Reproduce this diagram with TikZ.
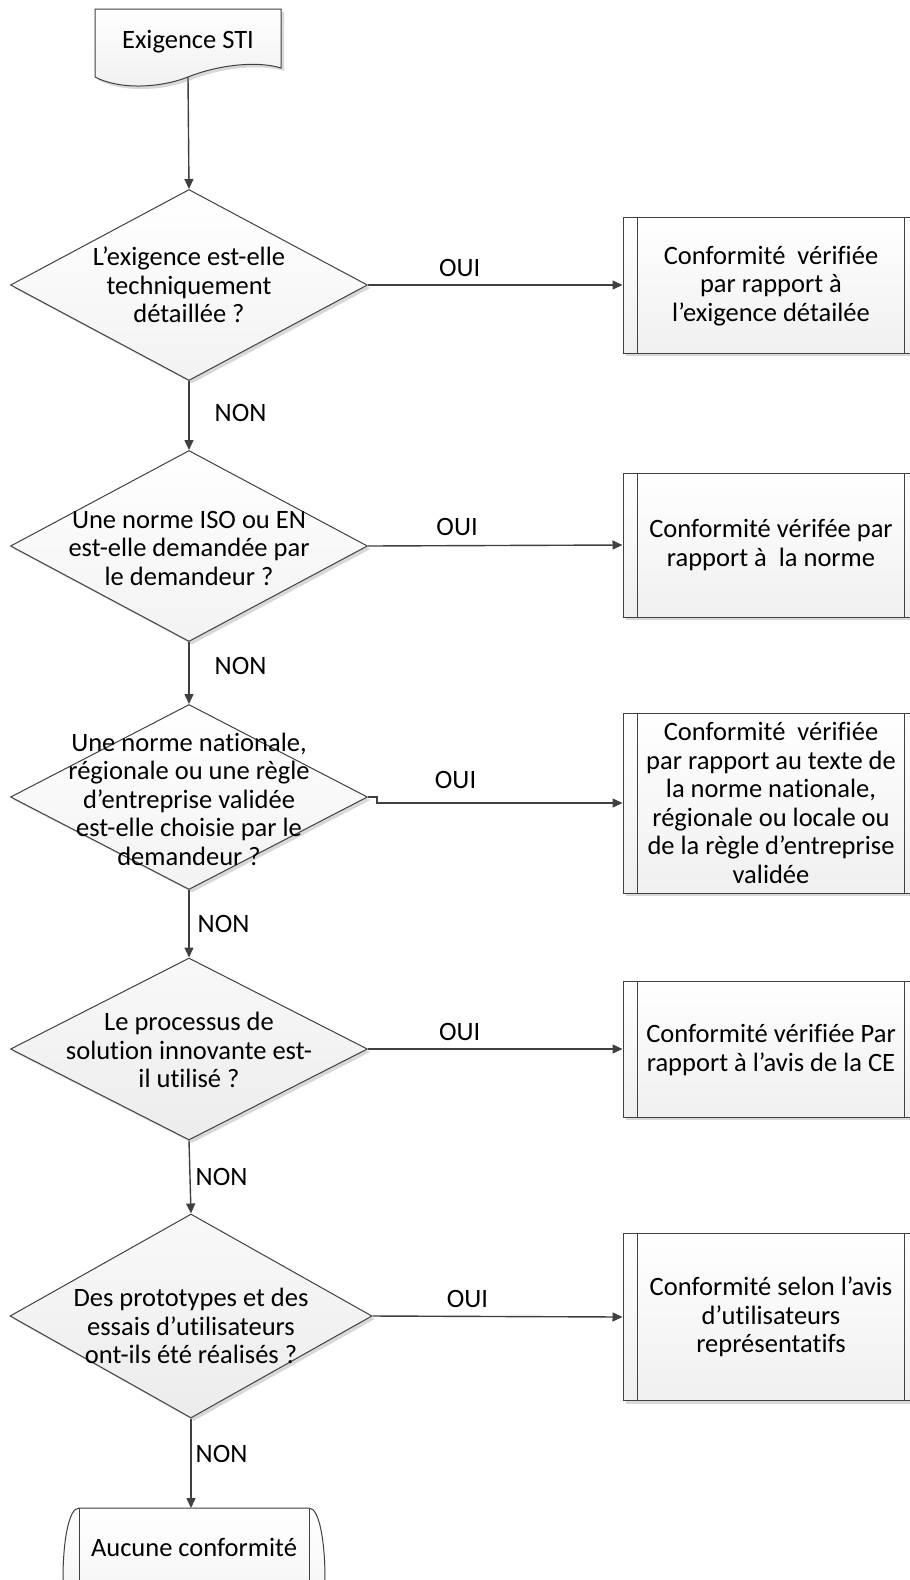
\documentclass[tikz,border=0pt]{standalone}
\usepackage{fontspec}
\setmainfont{Carlito}[Ligatures={NoCommon}]
\usetikzlibrary{shapes.geometric,arrows.meta,shadows}
\definecolor{ln}{HTML}{404040}
\begin{document}
\begin{tikzpicture}[x=1pt,y=-1pt,
  every node/.style={font=\fontsize{26.5}{28.5}\selectfont},
  txt/.style={align=center, inner sep=0pt},
  lbl/.style={inner sep=0pt},
  arr/.style={draw=ln, line width=1.4pt, -{Triangle[length=10pt,width=9pt]}},
  shd/.style={drop shadow={shadow xshift=3pt, shadow yshift=-3pt, opacity=0.3, fill=gray}},
  dia/.style={diamond, draw=ln, line width=1pt, inner sep=0pt, minimum width=357pt,
     top color=white, bottom color=gray!10, shd},
  diadark/.style={dia, top color=gray!5, bottom color=gray!15},
  pbox/.style={rectangle, draw=ln, line width=1pt, inner sep=0pt, minimum width=296pt,
     top color=white, bottom color=gray!12, shd},
  inner/.style={draw=ln, line width=1pt}
]
\useasboundingbox (0,0) rectangle (910,1580);
\fill[white] (0,0) rectangle (910,1580);
\clip (0,0) rectangle (910,1580);

% document shape
\path[draw=ln, line width=1pt, top color=white, bottom color=gray!12, shd]
  (95,9) -- (281,9) -- (281,68)
  .. controls (255,60) and (215,66) .. (188,77)
  .. controls (160,88) and (120,90) .. (95,77) -- cycle;
\coordinate (docb) at (188,77);
\node[txt] (doc) at (188,42) {Exigence STI};

% diamonds
\node[dia, minimum height=191pt] (d1) at (189,285) {};
\node[txt] (t1) at (d1.center) {L’exigence est-elle\\techniquement\\détaillée ?};
\node[dia, minimum height=191pt] (d2) at (189,546) {};
\node[txt] (t2) at (189,548) {Une norme ISO ou EN\\est-elle demandée par\\le demandeur ?};
\node[dia, minimum height=185pt] (d3) at (189,797) {};
\node[txt] (t3) at (189,799) {Une norme nationale,\\régionale ou une règle\\d’entreprise validée\\est-elle choisie par le\\demandeur ?};
\node[diadark, minimum height=182pt] (d4) at (189,1049) {};
\node[txt] (t4) at (189,1050) {Le processus de\\solution innovante est-\\il utilisé ?};
\node[diadark, minimum height=204pt, minimum width=362pt] (d5) at (191,1316) {};
\node[txt] (t5) at (191,1326) {Des prototypes et des\\essais d’utilisateurs\\ont-ils été réalisés ?};

% predefined process boxes
\node[pbox, minimum height=136pt] (b1) at (771,285) {};
\node[txt] (u1) at (771,286) {Conformité\ \ vérifiée\\par rapport à\\l’exigence détailée};
\node[pbox, minimum height=144pt] (b2) at (771,545) {};
\node[txt] (u2) at (771,545) {Conformité vérifée par\\rapport à\ \ la norme};
\node[pbox, minimum height=180pt] (b3) at (771,803) {};
\node[txt] (u3) at (771,803) {Conformité\ \ vérifiée\\par rapport au texte de\\la norme nationale,\\régionale ou locale ou\\de la règle d’entreprise\\validée};
\node[pbox, minimum height=136pt] (b4) at (771,1049) {};
\node[txt] (u4) at (771,1050) {Conformité vérifiée Par\\rapport à l’avis de la CE};
\node[pbox, minimum height=167pt] (b5) at (771,1317) {};
\node[txt] (u5) at (771,1317) {Conformité selon l’avis\\d’utilisateurs\\représentatifs};
\foreach \b in {b1,b2,b3,b4,b5}{
  \draw[inner] ([xshift=15pt]\b.north west) -- ([xshift=15pt]\b.south west);
  \draw[inner] ([xshift=-15pt]\b.north east) -- ([xshift=-15pt]\b.south east);
}

% terminal
\path[draw=ln, line width=1pt, top color=white, bottom color=gray!12]
  (79,1508) -- (309,1508) .. controls (330.3,1508) and (330.3,1648) .. (309,1648)
  -- (79,1648) .. controls (57.7,1648) and (57.7,1508) .. (79,1508) -- cycle;
\draw[inner] (79,1508) -- (79,1648);
\draw[inner] (309,1508) -- (309,1648);
\coordinate (tmtop) at (194,1508);
\node[txt] (tm) at (194,1547) {Aucune conformité};

% connectors
\draw[arr] (docb) -- (d1.north);
\draw[arr] (d1.south) -- node[lbl, pos=0.47, anchor=west, xshift=25pt] (n1) {NON} (d2.north);
\draw[arr] (d2.south) -- node[lbl, pos=0.39, anchor=west, xshift=25pt] (n2) {NON} (d3.north);
\draw[arr] (d3.south) -- node[lbl, pos=0.5, anchor=west, xshift=8pt] (n3) {NON} (d4.north);
\draw[arr] (d4.south) -- node[lbl, pos=0.5, anchor=west, xshift=5pt] (n4) {NON} (d5.north);
\draw[arr] (d5.south) -- node[lbl, pos=0.4, anchor=west, xshift=4pt] (n5) {NON} (d5.south |- tmtop);

\draw[arr] (d1.east) -- node[lbl, pos=0.36, above=8pt] (o1) {OUI} (b1.west);
\draw[arr] (d2.east) -- node[lbl, pos=0.35, above=9pt] (o2) {OUI} (b2.west);
\draw[arr] (d3.east) -- ++(9,0) |- node[lbl, pos=0.66, above=14pt] (o3) {OUI} (b3.west);
\draw[arr] (d4.east) -- node[lbl, pos=0.36, above=8pt] (o4) {OUI} (b4.west);
\draw[arr] (d5.east) -- node[lbl, pos=0.38, above=8pt] (o5) {OUI} (b5.west);
\end{tikzpicture}
\end{document}
